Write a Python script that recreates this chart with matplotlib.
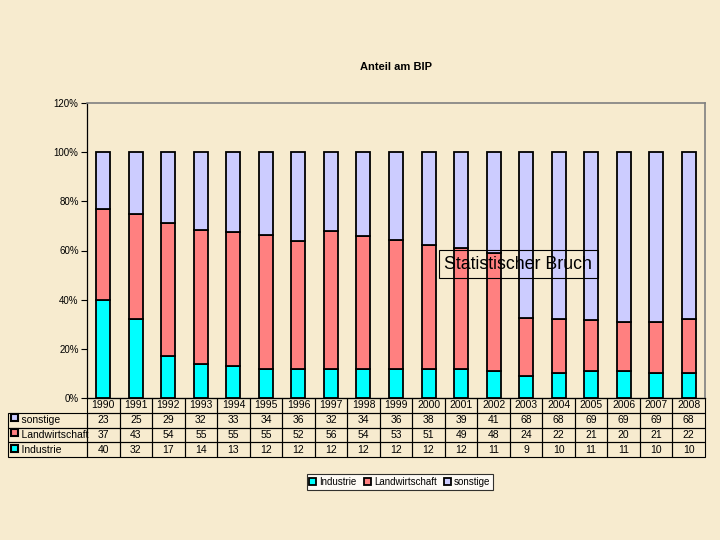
import numpy as np
import matplotlib.pyplot as plt
from matplotlib.patches import Rectangle

plt.rcParams['font.family'] = ['Liberation Sans', 'DejaVu Sans']

years = ['1990', '1991', '1992', '1993', '1994', '1995', '1996', '1997', '1998', '1999',
         '2000', '2001', '2002', '2003', '2004', '2005', '2006', '2007', '2008']
sonstige = [23, 25, 29, 32, 33, 34, 36, 32, 34, 36, 38, 39, 41, 68, 68, 69, 69, 69, 68]
landwirtschaft = [37, 43, 54, 55, 55, 55, 52, 56, 54, 53, 51, 49, 48, 24, 22, 21, 20, 21, 22]
industrie = [40, 32, 17, 14, 13, 12, 12, 12, 12, 12, 12, 12, 11, 9, 10, 11, 11, 10, 10]

series = ['Industrie', 'Landwirtschaft', 'sonstige']
colors = ['#00ffff', '#ff8080', '#ccccff']
bg = '#f7ebcf'

data = np.array([industrie, landwirtschaft, sonstige], dtype=float)
pct = data / data.sum(axis=0) * 100

fig = plt.figure(figsize=(7.2, 5.4), dpi=100, facecolor=bg)
ax = fig.add_axes([87 / 720, 1 - 398 / 540, 618 / 720, 295 / 540])
ax.set_facecolor('none')

x = np.arange(len(years))
bottom = np.zeros(len(years))
bars = []
for i, name in enumerate(series):
    b = ax.bar(x, pct[i], 0.43, bottom=bottom, color=colors[i], edgecolor='black',
               linewidth=1.3, label=name, zorder=2)
    bars.append(b)
    bottom += pct[i]

ax.set_xlim(-0.5, len(years) - 0.5)
ax.set_ylim(0, 120)
ax.set_yticks(np.arange(0, 121, 20))
ax.set_yticklabels([f'{v}%' for v in range(0, 121, 20)], fontsize=7)
ax.tick_params(axis='y', length=4, width=0.8, pad=2)
ax.set_xticks([])
for s in ['top', 'right']:
    ax.spines[s].set_color('#808080')
    ax.spines[s].set_linewidth(1.2)
ax.spines['left'].set_linewidth(0.9)
ax.spines['bottom'].set_linewidth(0.9)

ax.set_title('Anteil am BIP', fontsize=8, fontweight='bold', y=1.0, pad=24)

# data table under the chart
labels = ['sonstige', 'Landwirtschaft', 'Industrie']
rows = [sonstige, landwirtschaft, industrie]
cell_text = [['    ' + lab] + [str(v) for v in r] for lab, r in zip(labels, rows)]
w_lab = 79 / 697
w_col = 32.5 / 697
tab = ax.table(cellText=cell_text, colLabels=[''] + years,
               colWidths=[w_lab] + [w_col] * len(years),
               cellLoc='center', bbox=[-79 / 618, -59 / 295, 697 / 618, 59 / 295])
tab.auto_set_font_size(False)
tab.set_fontsize(7.5)
for (r, c), cell in tab.get_celld().items():
    cell.set_facecolor('none')
    cell.set_linewidth(0.8)
    if r == 0 and c == 0:
        cell.visible_edges = ''
    if c == 0 and r > 0:
        cell._loc = 'left'
        cell.get_text().set_ha('left')
        cell.PAD = 0.02

# legend-like squares in the row label cells
sq_w = 7 / 618
sq_h = 7 / 295
row_cols = [colors[2], colors[1], colors[0]]
for i, col in enumerate(row_cols):
    yc = -(19 + 15.5 * i) / 295
    ax.add_patch(Rectangle((-76 / 618, yc - sq_h / 2), sq_w, sq_h, transform=ax.transAxes,
                           facecolor=col, edgecolor='black', linewidth=1.5, clip_on=False))

ax.text(12.76, 54.5, 'Statistischer Bruch', fontsize=12.8, ha='center', va='center', zorder=5,
        bbox=dict(boxstyle='square,pad=0.32', facecolor='none', edgecolor='black', linewidth=0.8))

leg = fig.legend(handles=bars, labels=series, loc='center', bbox_to_anchor=(400 / 720, 1 - 482 / 540),
                 ncol=3, fontsize=7, frameon=True, fancybox=False, edgecolor='black',
                 handlelength=0.7, handleheight=0.7, handletextpad=0.3, columnspacing=0.8,
                 borderpad=0.3, borderaxespad=0)
leg.get_frame().set_facecolor('white')
leg.get_frame().set_linewidth(0.8)

fig.savefig('out.png', dpi=100, facecolor=bg)
